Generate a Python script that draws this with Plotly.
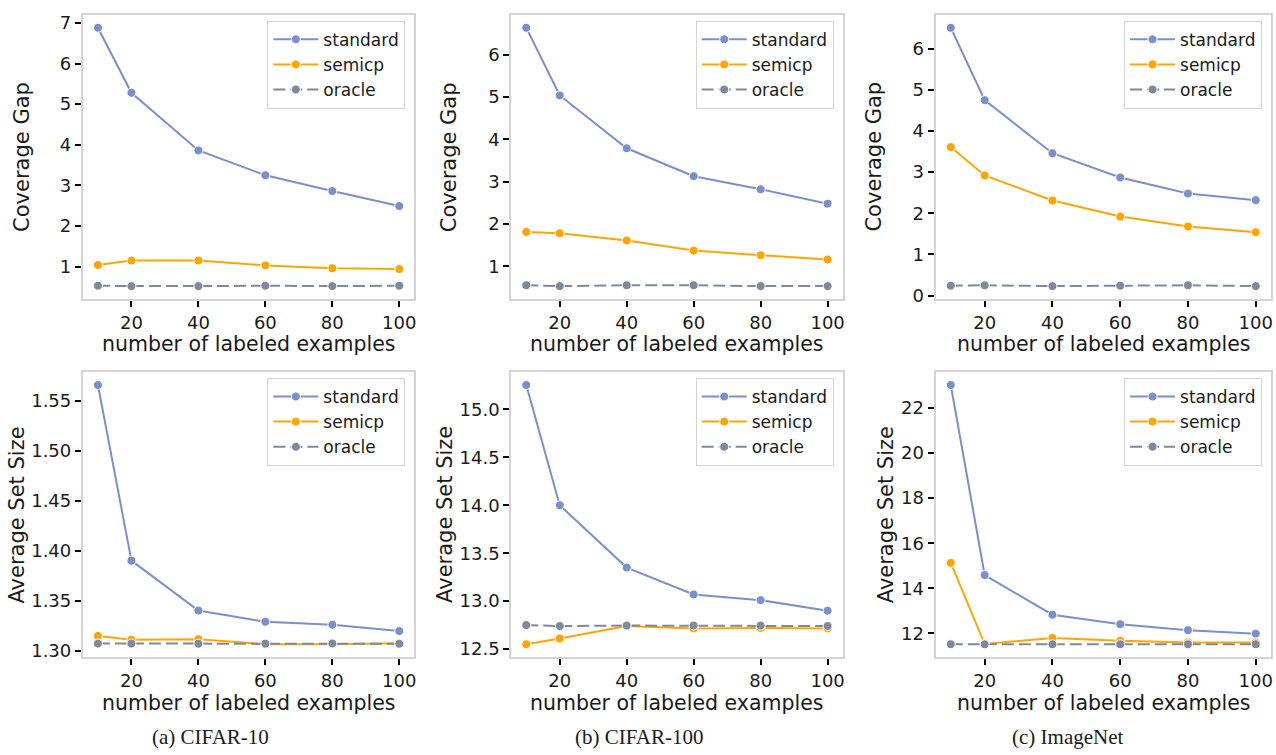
import plotly.graph_objects as go

W, H = 1276, 755

x_vals = [10, 20, 40, 60, 80, 100]
x_ticks = [20, 40, 60, 80, 100]

# Coverage gap (top row)
cg_c10_standard = [6.88, 5.28, 3.86, 3.25, 2.86, 2.49]
cg_c10_semicp = [1.04, 1.15, 1.15, 1.03, 0.96, 0.94]
cg_c10_oracle = [0.53, 0.52, 0.52, 0.53, 0.52, 0.53]

cg_c100_standard = [6.64, 5.04, 3.79, 3.13, 2.82, 2.48]
cg_c100_semicp = [1.81, 1.78, 1.61, 1.37, 1.26, 1.16]
cg_c100_oracle = [0.55, 0.53, 0.55, 0.55, 0.53, 0.53]

cg_in_standard = [6.51, 4.75, 3.46, 2.87, 2.48, 2.32]
cg_in_semicp = [3.61, 2.92, 2.31, 1.92, 1.68, 1.54]
cg_in_oracle = [0.24, 0.25, 0.23, 0.24, 0.25, 0.23]

# Average set size (bottom row)
ss_c10_standard = [1.5655, 1.3903, 1.3405, 1.3293, 1.3264, 1.3201]
ss_c10_semicp = [1.3152, 1.3115, 1.3120, 1.3069, 1.3069, 1.3080]
ss_c10_oracle = [1.3076, 1.3076, 1.3074, 1.3075, 1.3077, 1.3074]

ss_c100_standard = [15.255, 14.0, 13.35, 13.07, 13.01, 12.90]
ss_c100_semicp = [12.55, 12.61, 12.74, 12.715, 12.72, 12.715]
ss_c100_oracle = [12.75, 12.74, 12.745, 12.745, 12.745, 12.74]

ss_in_standard = [23.02, 14.59, 12.83, 12.41, 12.14, 11.99]
ss_in_semicp = [15.13, 11.53, 11.80, 11.68, 11.60, 11.60]
ss_in_oracle = [11.52, 11.52, 11.52, 11.52, 11.52, 11.52]

series_names = ["standard", "semicp", "oracle"]
colors = {"standard": "#7b8fcb", "semicp": "#ffa500", "oracle": "#7f899b"}
dashes = {"standard": "solid", "semicp": "solid", "oracle": "12px,5px"}

captions = ["(a) CIFAR-10", "(b) CIFAR-100", "(c) ImageNet"]

panels = [
    (0, 0, [cg_c10_standard, cg_c10_semicp, cg_c10_oracle], [1, 2, 3, 4, 5, 6, 7], "d", "Coverage Gap"),
    (0, 1, [cg_c100_standard, cg_c100_semicp, cg_c100_oracle], [1, 2, 3, 4, 5, 6], "d", "Coverage Gap"),
    (0, 2, [cg_in_standard, cg_in_semicp, cg_in_oracle], [0, 1, 2, 3, 4, 5, 6], "d", "Coverage Gap"),
    (1, 0, [ss_c10_standard, ss_c10_semicp, ss_c10_oracle], [1.30, 1.35, 1.40, 1.45, 1.50, 1.55], ".2f", "Average Set Size"),
    (1, 1, [ss_c100_standard, ss_c100_semicp, ss_c100_oracle], [12.5, 13.0, 13.5, 14.0, 14.5, 15.0], ".1f", "Average Set Size"),
    (1, 2, [ss_in_standard, ss_in_semicp, ss_in_oracle], [12, 14, 16, 18, 20, 22], "d", "Average Set Size"),
]

col_px = [(83, 415), (512, 844), (937, 1273)]
row_px = [(12, 300), (374, 663)]
ytitle_x = [[22, 450, 875], [17, 445, 887]]
xtitle_y = [346, 709]
caption_x = [211, 641, 1070]
caption_y = 744

TXT = "#1a1a1a"

def px_x(p):
    return p / W

def px_y(p):
    return 1 - p / H

fig = go.Figure()
annotations = []
layout_updates = {}

for i, (r, c, data, yticks, fmt, ytitle) in enumerate(panels):
    idx = i + 1
    xa = "xaxis" if idx == 1 else f"xaxis{idx}"
    ya = "yaxis" if idx == 1 else f"yaxis{idx}"
    xref = "x" if idx == 1 else f"x{idx}"
    yref = "y" if idx == 1 else f"y{idx}"
    leg = "legend" if idx == 1 else f"legend{idx}"

    allv = [v for s in data for v in s]
    lo, hi = min(allv), max(allv)
    pad = 0.05 * (hi - lo)
    xlo, xhi = min(x_vals), max(x_vals)
    xpad = 0.05 * (xhi - xlo)

    for name, ys in zip(series_names, data):
        fig.add_trace(go.Scatter(
            x=x_vals, y=ys, name=name, mode="lines+markers",
            xaxis=xref, yaxis=yref, legend=leg,
            line=dict(color=colors[name], width=2, dash=dashes[name]),
            marker=dict(size=9, color=colors[name], line=dict(color="white", width=1)),
        ))

    x0, x1 = col_px[c]
    y0, y1 = row_px[r]
    if fmt == "d":
        ticktext = [str(int(t)) for t in yticks]
    else:
        ticktext = [format(t, fmt) for t in yticks]
    common = dict(showline=True, mirror=True, linecolor="#d4d4d4", linewidth=2,
                  showgrid=False, zeroline=False, ticks="outside", ticklen=6,
                  tickwidth=1.5, tickcolor="black",
                  tickfont=dict(family="DejaVu Sans", size=18, color=TXT))
    layout_updates[xa] = dict(domain=[px_x(x0), px_x(x1)], anchor=yref,
                              range=[xlo - xpad, xhi + xpad], tickvals=x_ticks,
                              ticktext=[str(t) for t in x_ticks], **common)
    layout_updates[ya] = dict(domain=[px_y(y1), px_y(y0)], anchor=xref,
                              range=[lo - pad, hi + pad], tickvals=yticks,
                              ticktext=ticktext, **common)
    layout_updates[leg] = dict(x=px_x(x1 - 9), y=px_y(y0 + 6), xanchor="right", yanchor="top",
                               bgcolor="white", bordercolor="#d4d4d4", borderwidth=1,
                               font=dict(family="DejaVu Sans", size=17, color=TXT),
                               tracegroupgap=0, itemwidth=45)

    annotations.append(dict(text=ytitle, x=px_x(ytitle_x[r][c]), y=px_y((y0 + y1) / 2),
                            xref="paper", yref="paper", showarrow=False, textangle=-90,
                            xanchor="center", yanchor="middle",
                            font=dict(family="DejaVu Sans", size=21, color=TXT)))
    annotations.append(dict(text="number of labeled examples", x=px_x((x0 + x1) / 2),
                            y=px_y(xtitle_y[r]), xref="paper", yref="paper", showarrow=False,
                            xanchor="center", yanchor="middle",
                            font=dict(family="DejaVu Sans", size=20.5, color=TXT)))
    if r == 1:
        annotations.append(dict(text=captions[c], x=px_x(caption_x[c]), y=px_y(caption_y),
                                xref="paper", yref="paper", showarrow=False,
                                xanchor="center", yanchor="middle",
                                font=dict(family="Liberation Serif", size=21, color=TXT)))

fig.update_layout(**layout_updates)
fig.update_layout(width=W, height=H, margin=dict(l=0, r=0, t=0, b=0),
                  paper_bgcolor="white", plot_bgcolor="white",
                  annotations=annotations, showlegend=True)

fig.write_html("out.html")
